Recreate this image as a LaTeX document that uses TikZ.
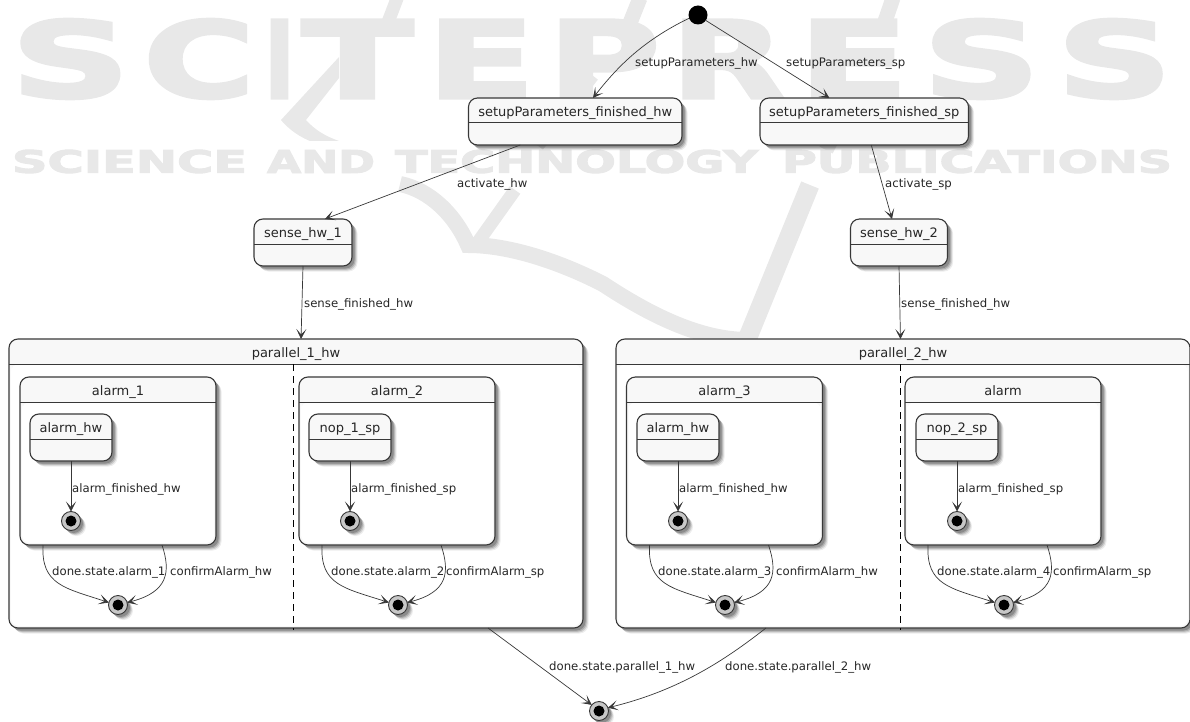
\documentclass[tikz,border=0pt]{standalone}
\usepackage{fontspec}
\usepackage{graphicx}
\setmainfont{DejaVu Sans}
\newfontfamily\markfont[FakeBold=3]{DejaVu Sans Bold}
\usetikzlibrary{arrows.meta,shadows}
\definecolor{linecol}{HTML}{383838}
\definecolor{headcol}{HTML}{F8F8F8}
\definecolor{markcol}{HTML}{E8E8E8}
\tikzset{
    softshadow/.style={
        general shadow={shadow xshift=5.5pt,shadow yshift=-5.5pt,fill=black,opacity=.07},
        general shadow={shadow xshift=4.5pt,shadow yshift=-4.5pt,fill=black,opacity=.12},
        general shadow={shadow xshift=3.5pt,shadow yshift=-3.5pt,fill=black,opacity=.16},
        general shadow={shadow xshift=2.5pt,shadow yshift=-2.5pt,fill=black,opacity=.2}},
    statebox/.style={draw=linecol, fill=headcol, line width=1.1pt, rounded corners=9pt, inner sep=0pt, outer sep=0pt, softshadow,
        path picture={\draw[linecol, line width=1pt] ([yshift=-25pt]path picture bounding box.north west) -- ([yshift=-25pt]path picture bounding box.north east);}},
    groupbox/.style={draw=linecol, fill=headcol, line width=1.1pt, rounded corners=9pt, inner sep=0pt, outer sep=0pt, softshadow,
        path picture={
            \fill[white, rounded corners=8pt] ([xshift=2pt,yshift=-25pt]path picture bounding box.north west) rectangle ([xshift=-2pt,yshift=2pt]path picture bounding box.south east);
            \fill[white] ([xshift=2pt,yshift=-25pt]path picture bounding box.north west) rectangle ([xshift=-2pt,yshift=-35pt]path picture bounding box.north east);
            \draw[linecol, line width=1pt] ([yshift=-25pt]path picture bounding box.north west) -- ([yshift=-25pt]path picture bounding box.north east);}},
    boxtitle/.style={font=\fontsize{13}{15}\selectfont, text=black!85, text height=11pt, text depth=3pt, inner sep=0pt, anchor=north, yshift=-7pt},
    translabel/.style={font=\fontsize{11.7}{14}\selectfont, text=black!85, inner sep=0pt, anchor=base west},
    endstate/.style={circle, draw=linecol, fill=black!22, line width=.9pt, minimum size=19pt, inner sep=0pt, outer sep=0pt, softshadow,
        path picture={\fill[black] (path picture bounding box.center) circle (5.5pt);}},
    trans/.style={draw=linecol, line width=.7pt, -{Stealth[length=10pt,width=10pt,inset=5.5pt]}},
    divider/.style={draw=black, line width=.8pt, dash pattern=on 7pt off 5pt},
    swoosh/.style={draw=markcol, line width=16pt},
    markletter/.style={text=markcol, inner sep=0pt, font=\markfont}
}
\begin{document}
\begin{tikzpicture}[x=1pt,y=-1pt]
    \useasboundingbox (0,0) rectangle (1190,722);

    % Watermark in the background
    \node[markletter] (markone) at (70.5,59) {\resizebox{119pt}{78pt}{S}};
    \node[markletter] (marktwo) at (199,59) {\resizebox{111pt}{78pt}{C}};
    \node[markletter] (markthree) at (279.5,59) {\resizebox{30pt}{78pt}{I}};
    \node[markletter] (markfour) at (357.5,59) {\resizebox{111pt}{78pt}{T}};
    \node[markletter] (markfive) at (481,59) {\resizebox{108pt}{78pt}{E}};
    \node[markletter] (marksix) at (604,59) {\resizebox{112pt}{78pt}{P}};
    \node[markletter] (markseven) at (728,59) {\resizebox{114pt}{78pt}{R}};
    \node[markletter] (markeight) at (853.5,59) {\resizebox{110pt}{78pt}{E}};
    \node[markletter] (marknine) at (981.5,59) {\resizebox{117pt}{78pt}{S}};
    \node[markletter] (markten) at (1114.5,59) {\resizebox{115pt}{78pt}{S}};
    \node[markletter] (subone) at (129.5,161.5) {\resizebox{235pt}{23pt}{SCIENCE}};
    \node[markletter] (subtwo) at (321,161.5) {\resizebox{108pt}{23pt}{AND}};
    \node[markletter] (subthree) at (576.5,161.5) {\resizebox{363pt}{23pt}{TECHNOLOGY}};
    \node[markletter] (subfour) at (977,161.5) {\resizebox{390pt}{23pt}{PUBLICATIONS}};
    \draw[swoosh, line width=13pt] (398,-4) -- (385,30);
    \fill[markcol] (339,57) -- (339,78) -- (306,120) .. controls (315,130) and (325,136) .. (339,141) -- (310,141) .. controls (295,135) and (285,125) .. (281,120) -- cycle;
    \draw[swoosh] (400,184) .. controls (430,190) and (455,215) .. (468,245) .. controls (510,245) and (560,262) .. (603,284) .. controls (650,315) and (700,340) .. (748,340);
    \draw[swoosh, line width=15pt] (640,-2) -- (626,33);
    \draw[swoosh, line width=15pt] (592,75) -- (537,145);
    \draw[swoosh, line width=13pt] (515,190) -- (478,242);
    \draw[swoosh, line width=15pt] (893,-2) -- (881,33);
    \draw[swoosh, line width=15pt] (848,108) -- (826,150);
    \draw[swoosh, line width=19pt] (810,185) -- (746,342);

    % Initial state and first states
    \node[circle, fill=black, minimum size=19pt, inner sep=0pt, outer sep=0pt] (start) at (698,15) {};
    \node[statebox, minimum width=213.5pt, minimum height=47pt, label={[boxtitle, name=tsetuphw]north:setupParameters\_finished\_hw}] (setuphw) at (575.25,121.5) {};
    \node[statebox, minimum width=208.5pt, minimum height=47pt, label={[boxtitle, name=tsetupsp]north:setupParameters\_finished\_sp}] (setupsp) at (864.25,121.5) {};
    \node[statebox, minimum width=98pt, minimum height=47pt, label={[boxtitle, name=tsenseone]north:sense\_hw\_1}] (senseone) at (303,242.5) {};
    \node[statebox, minimum width=97pt, minimum height=47pt, label={[boxtitle, name=tsensetwo]north:sense\_hw\_2}] (sensetwo) at (899,242.5) {};

    % Parallel groups
    \node[groupbox, minimum width=574pt, minimum height=289pt, label={[boxtitle, name=tparone]north:parallel\_1\_hw}] (parone) at (296,483.5) {};
    \node[groupbox, minimum width=574pt, minimum height=289pt, label={[boxtitle, name=tpartwo]north:parallel\_2\_hw}] (partwo) at (903,483.5) {};
    \coordinate (divonetop) at (293,364);
    \coordinate (divonebot) at (293,630);
    \coordinate (divtwotop) at (900,364);
    \coordinate (divtwobot) at (900,630);
    \draw[divider] (divonetop) -- (divonebot);
    \draw[divider] (divtwotop) -- (divtwobot);

    % Alarm groups
    \node[groupbox, minimum width=196pt, minimum height=168pt, label={[boxtitle, name=talarmone]north:alarm\_1}] (alarmone) at (118,461) {};
    \node[groupbox, minimum width=196pt, minimum height=168pt, label={[boxtitle, name=talarmtwo]north:alarm\_2}] (alarmtwo) at (397,461) {};
    \node[groupbox, minimum width=196pt, minimum height=168pt, label={[boxtitle, name=talarmthree]north:alarm\_3}] (alarmthree) at (724.5,461) {};
    \node[groupbox, minimum width=196pt, minimum height=168pt, label={[boxtitle, name=talarmfour]north:alarm}] (alarmfour) at (1003,461) {};

    % Inner states
    \node[statebox, minimum width=82pt, minimum height=47pt, label={[boxtitle, name=thwone]north:alarm\_hw}] (hwone) at (71,437.5) {};
    \node[statebox, minimum width=82pt, minimum height=47pt, label={[boxtitle, name=tnopone]north:nop\_1\_sp}] (nopone) at (350,437.5) {};
    \node[statebox, minimum width=82pt, minimum height=47pt, label={[boxtitle, name=thwtwo]north:alarm\_hw}] (hwtwo) at (678,437.5) {};
    \node[statebox, minimum width=82pt, minimum height=47pt, label={[boxtitle, name=tnoptwo]north:nop\_2\_sp}] (noptwo) at (957,437.5) {};

    % End states
    \node[endstate] (endhwone) at (71,521) {};
    \node[endstate] (endnopone) at (350,521) {};
    \node[endstate] (endhwtwo) at (678,521) {};
    \node[endstate] (endnoptwo) at (957,521) {};
    \node[endstate] (endalarmone) at (118,605) {};
    \node[endstate] (endalarmtwo) at (398,605) {};
    \node[endstate] (endalarmthree) at (725,605) {};
    \node[endstate] (endalarmfour) at (1004,605) {};
    \node[endstate] (endall) at (599,711) {};

    % Transitions
    \draw[trans] (start.200) .. controls (640,42) and (615,70) .. (setuphw.53);
    \draw[trans] (start.-35) -- (setupsp.146);
    \draw[trans] ([xshift=-55pt]setuphw.south) -- (senseone.47);
    \draw[trans] ([xshift=7pt]setupsp.south) -- ([xshift=-7pt]sensetwo.north);
    \draw[trans] (senseone.south) -- (parone.88);
    \draw[trans] (sensetwo.south) -- (partwo.91.6);
    \draw[trans] (hwone) -- (endhwone);
    \draw[trans] (nopone) -- (endnopone);
    \draw[trans] (hwtwo) -- (endhwtwo);
    \draw[trans] (noptwo) -- (endnoptwo);

    \draw[trans] ([xshift=-75pt]alarmone.south) .. controls (41,585) and (65,588) .. (endalarmone.165);
    \draw[trans] ([xshift=44pt]alarmone.south) .. controls (171,572) and (168,592) .. (endalarmone.15);
    \draw[trans] ([xshift=-75pt]alarmtwo.south) .. controls (320,585) and (344,588) .. (endalarmtwo.165);
    \draw[trans] ([xshift=44pt]alarmtwo.south) .. controls (450,572) and (448,592) .. (endalarmtwo.15);
    \draw[trans] ([xshift=-75pt]alarmthree.south) .. controls (647.5,585) and (671.5,588) .. (endalarmthree.165);
    \draw[trans] ([xshift=44pt]alarmthree.south) .. controls (777.5,572) and (775.5,592) .. (endalarmthree.15);
    \draw[trans] ([xshift=-75pt]alarmfour.south) .. controls (926,585) and (950,588) .. (endalarmfour.165);
    \draw[trans] ([xshift=44pt]alarmfour.south) .. controls (1056,572) and (1054,592) .. (endalarmfour.15);

    \draw[trans] ([xshift=192pt]parone.south) -- (endall.140);
    \draw[trans] ([xshift=-137pt]partwo.south) .. controls (725,660) and (680,690) .. (endall.20);

    % Transition labels
    \node[translabel] (lsetuphw) at (635,66.5) {setupParameters\_hw};
    \node[translabel] (lsetupsp) at (786,66.5) {setupParameters\_sp};
    \node[translabel] (lactivatehw) at (457,187) {activate\_hw};
    \node[translabel] (lactivatesp) at (885,187) {activate\_sp};
    \node[translabel] (lsenseone) at (304,307) {sense\_finished\_hw};
    \node[translabel] (lsensetwo) at (901,307) {sense\_finished\_hw};
    \node[translabel] (lhwone) at (72,492.5) {alarm\_finished\_hw};
    \node[translabel] (lnopone) at (351,492.5) {alarm\_finished\_sp};
    \node[translabel] (lhwtwo) at (679,492.5) {alarm\_finished\_hw};
    \node[translabel] (lnoptwo) at (958,492.5) {alarm\_finished\_sp};
    \node[translabel] (ldoneone) at (52,575) {done.state.alarm\_1};
    \node[translabel] (lconfone) at (170,575) {confirmAlarm\_hw};
    \node[translabel] (ldonetwo) at (331,575) {done.state.alarm\_2};
    \node[translabel] (lconftwo) at (446,575) {confirmAlarm\_sp};
    \node[translabel] (ldonethree) at (658,575) {done.state.alarm\_3};
    \node[translabel] (lconfthree) at (776,575) {confirmAlarm\_hw};
    \node[translabel] (ldonefour) at (937,575) {done.state.alarm\_4};
    \node[translabel] (lconffour) at (1053,575) {confirmAlarm\_sp};
    \node[translabel] (ldoneparone) at (549,670) {done.state.parallel\_1\_hw};
    \node[translabel] (ldonepartwo) at (725,670) {done.state.parallel\_2\_hw};
\end{tikzpicture}
\end{document}
